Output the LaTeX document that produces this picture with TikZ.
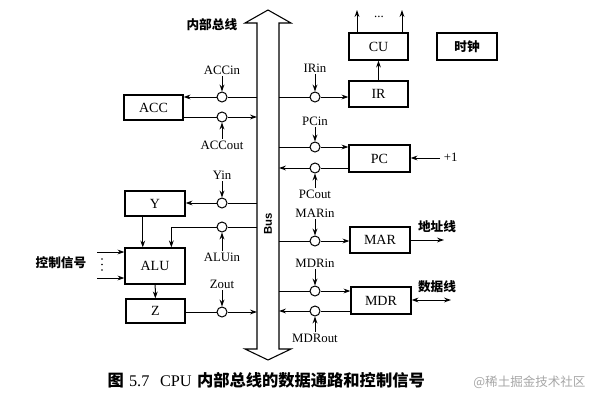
\documentclass[tikz,border=0pt]{standalone}
\usepackage{fontspec}
\setmainfont{Liberation Serif}
\newfontfamily\cjk{Noto Sans CJK SC}
\newfontfamily\hv{Liberation Sans}
\usetikzlibrary{arrows.meta,calc}
\begin{document}
\begin{tikzpicture}[x=0.75pt,y=-0.75pt,line width=0.75pt,
  >={Stealth[length=5.2pt,width=3.6pt]},
  box/.style={draw,line width=0.9pt,inner sep=0pt,font=\fontsize{10.5}{12}\selectfont},
  gate/.style={circle,draw,fill=white,inner sep=0pt,minimum size=7.5pt},
  lab/.style={inner sep=1pt,font=\fontsize{9.6}{11}\selectfont},
  zh/.style={inner sep=1pt,font=\cjk\bfseries\fontsize{9.5}{11}\selectfont},
  dotmark/.style={circle,fill,inner sep=0pt,minimum size=1.3pt}]
\useasboundingbox (0,0) rectangle (590,400);

% bus
\draw[line width=0.8pt,fill=white] (257,23) -- (245,23) -- (268,10) -- (291,23) -- (279,23)
  -- (279,349) -- (291,349) -- (268,360) -- (245,349) -- (257,349) -- cycle;
\node[rotate=90,font=\hv\bfseries\fontsize{8.5}{10}\selectfont] (buslab) at (268,224) {Bus};
\node[zh,anchor=east] (buszh) at (239,25) {内部总线};

% boxes
\node[box,minimum width=44.25pt,minimum height=18.75pt] (ACC) at (153.5,107.5) {ACC};
\node[box,minimum width=45pt,minimum height=18.75pt] (Y) at (155,203.5) {Y};
\node[box,minimum width=45pt,minimum height=27pt] (ALU) at (155,266) {ALU};
\node[box,minimum width=44.25pt,minimum height=18pt] (Z) at (155.5,311) {Z};
\node[box,minimum width=44.25pt,minimum height=20.25pt] (CU) at (378.5,46.5) {CU};
\node[box,minimum width=45pt,minimum height=20.25pt,font=\cjk\bfseries\fontsize{9.5}{11}\selectfont] (CLK) at (467,46.5) {时钟};
\node[box,minimum width=44.25pt,minimum height=19.5pt] (IR) at (378.5,94) {IR};
\node[box,minimum width=45.75pt,minimum height=20.25pt] (PC) at (379.5,158.5) {PC};
\node[box,minimum width=45pt,minimum height=19.5pt] (MAR) at (380,240) {MAR};
\node[box,minimum width=45pt,minimum height=20.25pt] (MDR) at (381,300.5) {MDR};

% bus attachment points
\coordinate (bAi) at (257,97);
\coordinate (bAo) at (257,117);
\coordinate (bYi) at (257,203);
\coordinate (bLi) at (257,227);
\coordinate (bZo) at (257,312);
\coordinate (bIi) at (279,97);
\coordinate (bPi) at (279,147);
\coordinate (bPo) at (279,168);
\coordinate (bMi) at (279,241);
\coordinate (bDi) at (279,291);
\coordinate (bDo) at (279,311);

% gates
\node[gate] (gAi) at (222,97) {};
\node[gate] (gAo) at (222,117) {};
\node[gate] (gYi) at (222,203) {};
\node[gate] (gLi) at (222,227) {};
\node[gate] (gZo) at (222,312) {};
\node[gate] (gIi) at (315,97) {};
\node[gate] (gPi) at (315,147) {};
\node[gate] (gPo) at (315,168) {};
\node[gate] (gMi) at (315,241) {};
\node[gate] (gDi) at (315,291) {};
\node[gate] (gDo) at (315,311) {};

% gate labels
\node[lab] (lAi) at (222,70) {ACCin};
\node[lab] (lAo) at (222,145) {ACCout};
\node[lab] (lYi) at (222,175) {Yin};
\node[lab] (lLi) at (222,257) {ALUin};
\node[lab] (lZo) at (222,284) {Zout};
\node[lab] (lIi) at (315,68) {IRin};
\node[lab] (lPi) at (315,121) {PCin};
\node[lab] (lPo) at (315,194) {PCout};
\node[lab] (lMi) at (315,213) {MARin};
\node[lab] (lDi) at (315,263) {MDRin};
\node[lab] (lDo) at (315,338) {MDRout};

\foreach \l/\g in {lAi/gAi,lAo/gAo,lYi/gYi,lLi/gLi,lZo/gZo,lIi/gIi,lPi/gPi,lPo/gPo,lMi/gMi,lDi/gDi,lDo/gDo}
  \draw[->] (\l) -- (\g);

% data lines left
\draw[->] (bAi) -- (gAi) -- (gAi -| ACC.east);
\draw[->] (gAo -| ACC.east) -- (gAo) -- (bAo);
\draw[->] (bYi) -- (gYi) -- (gYi -| Y.east);
\draw[->] (bLi) -- (gLi) -| ($(ALU.north west)!0.767!(ALU.north east)$);
\draw[->] (Z.east |- gZo) -- (gZo) -- (bZo);
\draw[->] ($(Y.south west)!0.3!(Y.south east)$) -- ($(ALU.north west)!0.3!(ALU.north east)$);
\draw[->] (ALU) -- (Z);

% control signals to ALU
\coordinate (c1) at (97,252);
\coordinate (c2) at (97,278);
\draw[->] (c1) -- (c1 -| ALU.west);
\draw[->] (c2) -- (c2 -| ALU.west);
\node[dotmark] (vd1) at (102,259) {};
\node[dotmark] (vd2) at (102,264.5) {};
\node[dotmark] (vd3) at (102,270) {};
\node[zh] (ctl) at (61,263) {控制信号};

% data lines right
\draw[->] (bIi) -- (gIi) -- (gIi -| IR.west);
\draw[->] (bPi) -- (gPi) -- (gPi -| PC.west);
\draw[->] (gPo -| PC.west) -- (gPo) -- (bPo);
\draw[->] (bMi) -- (gMi) -- (gMi -| MAR.west);
\draw[->] (bDi) -- (gDi) -- (gDi -| MDR.west);
\draw[->] (gDo -| MDR.west) -- (gDo) -- (bDo);
\draw[->] (IR) -- (CU);

% CU outputs
\coordinate (cu1) at (357,10);
\coordinate (cu2) at (402,10);
\draw[->] (CU.north -| cu1) -- (cu1);
\draw[->] (CU.north -| cu2) -- (cu2);
\node[lab] (cudots) at (379,17) {...};

% +1
\coordinate (p1) at (440,158);
\draw[->] (p1) -- (p1 -| PC.east);
\node[lab,anchor=west] (plus) at (442,157) {+1};

% MAR / MDR outputs
\coordinate (addr) at (444,240);
\draw[->] (MAR.east |- addr) -- (addr);
\node[zh] (addrlab) at (437,227) {地址线};
\coordinate (data) at (451,300);
\draw[<->] (MDR.east |- data) -- (data);
\node[zh] (datalab) at (437,287) {数据线};

% caption
\node[anchor=west,inner sep=0pt,font=\fontsize{12.2}{14}\selectfont] (cap) at (107,380)
  {{\cjk\bfseries 图}\hspace{4pt}5.7\hspace{8pt}CPU\hspace{4pt}{\cjk\bfseries 内部总线的数据通路和控制信号}};
\node[anchor=east,inner sep=0pt,text=black!35,font=\cjk\fontsize{9.4}{11}\selectfont] (wm) at (586,382) {@稀土掘金技术社区};
\end{tikzpicture}
\end{document}
